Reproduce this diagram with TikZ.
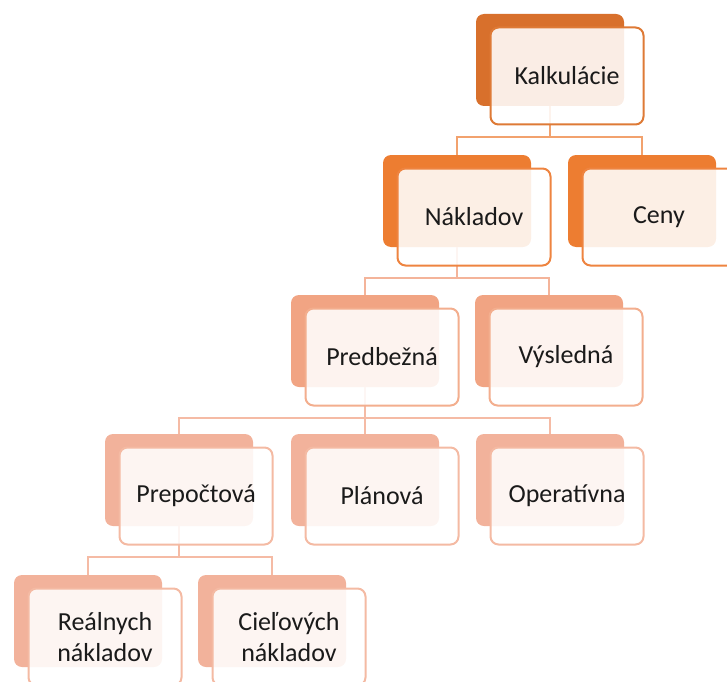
\documentclass[tikz,border=0pt]{standalone}
\usepackage{fontspec}
\setmainfont{Carlito}
\usepackage{xcolor}
\definecolor{cText}{HTML}{1A1A1A}
\definecolor{cBackA}{HTML}{D8702C}
\definecolor{cLineA}{HTML}{DE7A36}
\definecolor{cBackB}{HTML}{ED7D31}
\definecolor{cLineB}{HTML}{EE8440}
\definecolor{cBackC}{HTML}{F1A483}
\definecolor{cLineC}{HTML}{F3AE8E}
\definecolor{cBackD}{HTML}{F2B29B}
\definecolor{cLineD}{HTML}{F4BAA3}
\definecolor{cLinkA}{HTML}{F2A26E}
\definecolor{cLinkB}{HTML}{F4B49A}
\definecolor{cLinkC}{HTML}{F5BBA5}
\usepackage{tikz}
\usetikzlibrary{positioning}
\tikzset{
  node-back/.style={rounded corners=6pt,minimum width=111pt,
    minimum height=69pt,inner sep=0pt},
  node-front/.style={draw,line width=1.5pt,rounded corners=6pt,
    fill=white,fill opacity=.88,text opacity=1,inner sep=0pt,
    minimum width=114.75pt,minimum height=72.75pt,align=center,
    text=cText,font=\fontsize{19.5}{23}\selectfont},
  link/.style={line width=1.5pt},
}

\begin{document}
\begin{tikzpicture}[x=0.75pt,y=-0.75pt]
  \useasboundingbox (0,0) rectangle (727,681);
  \clip (0,0) rectangle (727,681);
  % back boxes
  \node[node-back,fill=cBackA] (kalk-b) at (550,60) {};
  \node[node-back,fill=cBackB] (nakl-b) at (457,201) {};
  \node[node-back,fill=cBackB] (ceny-b) at (642,201) {};
  \node[node-back,fill=cBackC] (pred-b) at (365,341) {};
  \node[node-back,fill=cBackC] (vysl-b) at (549,341) {};
  \node[node-back,fill=cBackD] (prep-b) at (179,480) {};
  \node[node-back,fill=cBackD] (plan-b) at (365,480) {};
  \node[node-back,fill=cBackD] (oper-b) at (550,480) {};
  \node[node-back,fill=cBackD] (real-b) at (88,621) {};
  \node[node-back,fill=cBackD] (ciel-b) at (272,621) {};
  % links
  \draw[link,draw=cLinkA] (kalk-b.south) -- ++(0,31) -| (nakl-b.north);
  \draw[link,draw=cLinkA] (kalk-b.south) -- ++(0,31) -| (ceny-b.north);
  \draw[link,draw=cLinkB] (nakl-b.south) -- ++(0,31) -| (pred-b.north);
  \draw[link,draw=cLinkB] (nakl-b.south) -- ++(0,31) -| (vysl-b.north);
  \draw[link,draw=cLinkC] (pred-b.south) -- ++(0,31) -| (prep-b.north);
  \draw[link,draw=cLinkC] (pred-b.south) -- ++(0,31) -| (plan-b.north);
  \draw[link,draw=cLinkC] (pred-b.south) -- ++(0,31) -| (oper-b.north);
  \draw[link,draw=cLinkC] (prep-b.south) -- ++(0,31) -| (real-b.north);
  \draw[link,draw=cLinkC] (prep-b.south) -- ++(0,31) -| (ciel-b.north);
  % front boxes
  \node[node-front,draw=cLineA] (kalk) at ([shift={(17,16)}]kalk-b.center) {Kalkulácie};
  \node[node-front,draw=cLineB] (nakl) at ([shift={(17,16)}]nakl-b.center) {Nákladov};
  \node[node-front,draw=cLineB] (ceny) at ([shift={(17,16)}]ceny-b.center) {Ceny};
  \node[node-front,draw=cLineC] (pred) at ([shift={(17,16)}]pred-b.center) {Predbežná};
  \node[node-front,draw=cLineC] (vysl) at ([shift={(17,16)}]vysl-b.center) {Výsledná};
  \node[node-front,draw=cLineD] (prep) at ([shift={(17,16)}]prep-b.center) {Prepočtová};
  \node[node-front,draw=cLineD] (plan) at ([shift={(17,16)}]plan-b.center) {Plánová};
  \node[node-front,draw=cLineD] (oper) at ([shift={(17,16)}]oper-b.center) {Operatívna};
  \node[node-front,draw=cLineD] (real) at ([shift={(17,16)}]real-b.center) {Reálnych\\nákladov};
  \node[node-front,draw=cLineD] (ciel) at ([shift={(17,16)}]ciel-b.center) {Cieľových\\nákladov};
\end{tikzpicture}
\end{document}
